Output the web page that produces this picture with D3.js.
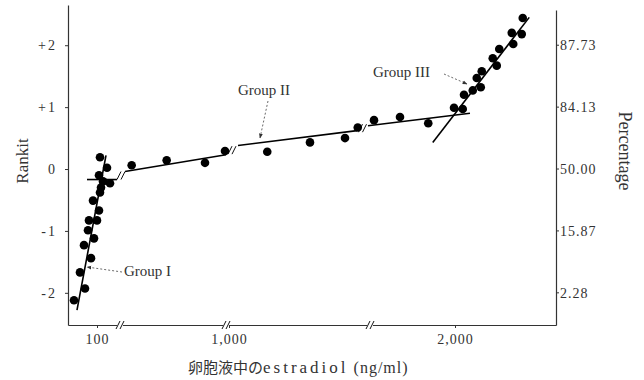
<!DOCTYPE html>
<html>
<head>
<meta charset="utf-8">
<script src="https://cdn.jsdelivr.net/npm/d3@7"></script>
<style>
  body { margin: 0; background: #fff; }
  text { font-family: "Liberation Serif", "Noto Sans CJK JP", serif; fill: #333; }
</style>
</head>
<body>
<svg id="chart" width="644" height="380"></svg>
<script>
// tick labels
const rankTicks = [2, 1, 0, -1, -2];
const rankLabels = ["+2", "+1", "0", "-1", "-2"];
const pctLabels = ["87.73", "84.13", "50.00", "15.87", "2.28"];
const xTicks = [100, 1000, 2000];
const xTickLabels = ["100", "1,000", "2,000"];

// points: [estradiol, rankit]
const groupI = [[106, 0.19], [120, 0.02], [104, -0.10], [112, -0.20], [126, -0.23], [108, -0.30],
  [106, -0.38], [92, -0.51], [104, -0.67], [84, -0.83], [100, -0.83], [82, -0.99], [94, -1.12],
  [74, -1.23], [88, -1.44], [66, -1.67], [76, -1.93], [54, -2.12]];
const groupII = [[320, 0.06], [530, 0.14], [760, 0.10], [880, 0.29], [1153, 0.28], [1324, 0.43],
  [1464, 0.50], [1515, 0.67], [1676, 0.79], [1780, 0.84], [1893, 0.74], [1996, 0.99], [2031, 0.97]];
const groupIII = [[2036, 1.20], [2071, 1.27], [2103, 1.32], [2087, 1.47], [2107, 1.58], [2151, 1.79],
  [2167, 1.67], [2177, 1.94], [2233, 2.02], [2227, 2.20], [2267, 2.18], [2271, 2.44]];

// fitted lines
const lineI = [[60, -2.28], [118, 0.22]];
const lineII = [
  [[80, -0.17], [140, -0.17]],
  [[280, -0.04], [886, 0.23]],
  [[1036, 0.38], [1512, 0.62]],
  [[1556, 0.70], [2060, 0.90]]
];
const lineIII = [[1911, 0.43], [2297, 2.45]];

// broken x axis: piecewise domain
const xDomain = [42, 146, 250, 886, 988, 1564, 1660, 2404];
const axisBreaks = [146, 886, 1564];

const svg = d3.select("#chart");
const mLeft = 68, mRight = 556, mTop = 5, mBottom = 325;

const x = d3.scaleLinear()
  .domain(xDomain)
  .range([mLeft, 120, 120, 226, 226, 370, 370, mRight]);
const y = d3.scaleLinear().domain([-2.52, 2.65]).range([mBottom, mTop]);

// axes
const gl = svg.append("g").attr("transform", `translate(${mLeft},0)`)
  .call(d3.axisLeft(y).tickValues(rankTicks).tickSize(3).tickSizeOuter(0)
    .tickFormat((d, i) => rankLabels[i]));
const gr = svg.append("g").attr("transform", `translate(${mRight},0)`)
  .call(d3.axisRight(d3.scaleLinear().domain(y.domain()).range([mBottom, 10]))
    .tickValues([]).tickSizeOuter(0));
gr.selectAll(".pt").data(rankTicks).enter().append("line")
  .attr("x1", 0).attr("x2", 3).attr("y1", d => y(d)).attr("y2", d => y(d)).attr("stroke", "#333");
gr.selectAll(".pl").data(rankTicks).enter().append("text")
  .attr("x", 4).attr("y", d => y(d)).attr("dy", "0.35em")
  .attr("font-size", 14).style("letter-spacing", "1px")
  .text((d, i) => pctLabels[i]);
const gb = svg.append("g").attr("transform", `translate(0,${mBottom})`)
  .call(d3.axisBottom(x).tickValues(xTicks).tickSize(3).tickSizeOuter(0)
    .tickFormat((d, i) => xTickLabels[i]));

[gl, gr, gb].forEach(g => {
  g.selectAll("path.domain").attr("stroke", "#333").attr("stroke-width", 1.2);
  g.selectAll(".tick line").attr("stroke", "#333");
  g.selectAll(".tick text").attr("font-size", 14).attr("font-family", "Liberation Serif").attr("fill", "#333");
});
gl.selectAll(".tick text").attr("x", -11).style("letter-spacing", "2px");
gb.selectAll(".tick text").attr("y", 9).style("letter-spacing", "1px");

// break marks helper
function breakMark(cx, cy) {
  const g = svg.append("g").attr("transform", `translate(${cx},${cy})`);
  g.append("rect").attr("x", -3).attr("y", -4).attr("width", 6).attr("height", 8).attr("fill", "#fff");
  [-2, 2].forEach(dx => g.append("line")
    .attr("x1", dx - 2).attr("y1", 4).attr("x2", dx + 2).attr("y2", -4)
    .attr("stroke", "#111").attr("stroke-width", 1));
}
axisBreaks.forEach(b => breakMark(x(b), mBottom));

// fitted lines
const line = d3.line().x(d => x(d[0])).y(d => y(d[1]));
svg.append("path").datum(lineI).attr("d", line).attr("stroke", "#000").attr("stroke-width", 1.6).attr("fill", "none");
svg.append("path").datum(lineIII).attr("d", line).attr("stroke", "#000").attr("stroke-width", 1.6).attr("fill", "none");
lineII.forEach(seg => svg.append("path").datum(seg).attr("d", line)
  .attr("stroke", "#000").attr("stroke-width", 1.6).attr("fill", "none"));
for (let i = 0; i < lineII.length - 1; i++) {
  const a = lineII[i][1], b = lineII[i + 1][0];
  breakMark((x(a[0]) + x(b[0])) / 2, (y(a[1]) + y(b[1])) / 2);
}

// dots
svg.append("g").selectAll("circle").data(groupI.concat(groupII, groupIII)).enter()
  .append("circle").attr("cx", d => x(d[0])).attr("cy", d => y(d[1])).attr("r", 4.3).attr("fill", "#000");

// group labels with dashed arrows
svg.append("defs").append("marker").attr("id", "ah").attr("viewBox", "0 0 10 10")
  .attr("refX", 9).attr("refY", 5).attr("markerWidth", 6).attr("markerHeight", 6).attr("orient", "auto")
  .append("path").attr("d", "M0,1L10,5L0,9z").attr("fill", "#333");
function label(txt, tx, ty, x1, y1, x2, y2) {
  svg.append("text").attr("x", tx).attr("y", ty).attr("font-size", 15).text(txt);
  svg.append("line").attr("x1", x1).attr("y1", y1).attr("x2", x2).attr("y2", y2)
    .attr("stroke", "#444").attr("stroke-width", 0.8).attr("stroke-dasharray", "2,2")
    .attr("marker-end", "url(#ah)");
}
label("Group  I", 124, 276, 122, 272, 87, 267);
label("Group  II", 238, 95, 268, 101, 260, 138);
label("Group  III", 373, 77, 444, 74, 467, 84);

// axis titles
svg.append("text").attr("transform", "translate(28,161) rotate(-90)")
  .attr("text-anchor", "middle").attr("font-size", 17).text("Rankit");
svg.append("text").attr("transform", "translate(619,151) rotate(90)")
  .attr("text-anchor", "middle").attr("font-size", 18).text("Percentage");
const xt = svg.append("text").attr("x", 188).attr("y", 373);
xt.append("tspan").attr("font-size", 15).text("卵胞液中の");
xt.append("tspan").attr("font-size", 17).style("letter-spacing", "3px").text("estradiol");
xt.append("tspan").attr("font-size", 16).style("letter-spacing", "1px").text(" (ng/ml)");
</script>
</body>
</html>
